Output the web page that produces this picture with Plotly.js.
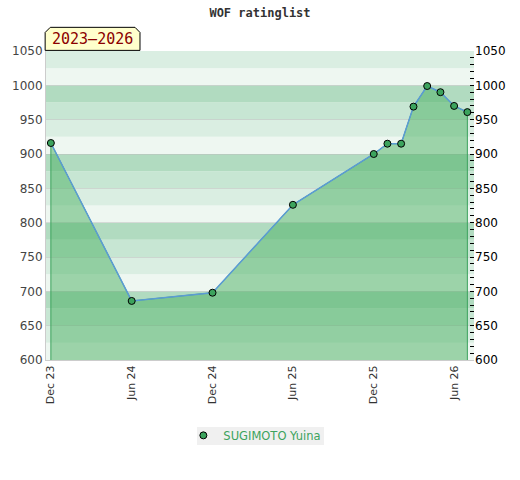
<!DOCTYPE html>
<html><head><meta charset="utf-8">
<script src="https://cdn.plot.ly/plotly-3.0.1.min.js"></script>
<style>html,body{margin:0;padding:0;background:#fff}#c{width:520px;height:480px}</style>
</head><body><div id="c"></div>
<script>
var dates = ['2023-12-01','2024-06-01','2024-12-01','2025-06-01','2025-12-01','2026-01-01','2026-02-01','2026-03-01','2026-04-01','2026-05-01','2026-06-01','2026-07-01'];
var ratings = [916, 686, 698, 826, 900, 915, 915, 969, 999, 990, 970, 961];
var tickDates = ['2023-12-01','2024-06-01','2024-12-01','2025-06-01','2025-12-01','2026-06-01'];
var tickLabels = ['Dec 23','Jun 24','Dec 24','Jun 25','Dec 25','Jun 26'];
var playerName = 'SUGIMOTO Yuina';
var periodLabel = '2023\u20132026';
var yMin = 600, yMax = 1050;

var bandColors = ['#eef7f1','#daeee2','#c7e6d3','#b1dbc0'];
var shapes = [];
for (var v = yMin, i = 0; v < yMax; v += 25, i++) {
  shapes.push({type:'rect', xref:'paper', yref:'y', x0:0, x1:1, y0:v, y1:v+25,
    fillcolor: bandColors[i % 4], line:{width:0}, layer:'below'});
}
shapes.push({type:'path', xref:'paper', yref:'paper',
  path:'M -0.002 1.002 L -0.002 1.06 L 0.01 1.0766 L 0.208 1.0766 L 0.2196 1.06 L 0.2196 1.002 Z',
  fillcolor:'#ffffcc', line:{color:'#000', width:1}, layer:'above'});
// legend background box
shapes.push({type:'rect', xref:'paper', yref:'paper', x0:0.3528, x1:0.6495, y0:-0.2166, y1:-0.2748,
  fillcolor:'#f0f0f0', line:{width:0}, layer:'below'});

var n = dates.length;
var fillX = [dates[0]].concat(dates).concat([dates[n-1]]);
var fillY = [yMin].concat(ratings).concat([yMin]);

var traces = [
  {x: fillX, y: fillY, type:'scatter', mode:'lines', fill:'tozeroy',
   fillcolor:'rgba(73,175,98,0.5)', line:{color:'#3ca35d', width:1},
   showlegend:false, hoverinfo:'skip'},
  {x: dates, y: ratings, type:'scatter', mode:'lines', line:{color:'#5b9bd5', width:1.5},
   showlegend:false, hoverinfo:'skip'},
  {x: dates, y: ratings, type:'scatter', mode:'markers', name: playerName,
   marker:{color:'#3ca35d', size:7, line:{color:'#000', width:1}}},
  {x: [dates[0]], y: [ratings[0]], yaxis:'y2', type:'scatter', mode:'markers',
   marker:{opacity:0}, showlegend:false, hoverinfo:'skip'}
];

var layout = {
  width:520, height:480,
  margin:{l:46, r:46, t:51, b:120},
  paper_bgcolor:'#fff', plot_bgcolor:'#fff',
  font:{family:'DejaVu Sans', size:12, color:'#444'},
  title:{text:'<b>WOF ratinglist</b>', x:0.5, xanchor:'center', y:0.983, yanchor:'top',
    font:{family:'DejaVu Sans Mono', size:12, color:'#333'}},
  xaxis:{type:'date', range:['2023-11-20','2026-07-16'], tickvals: tickDates, ticktext: tickLabels,
    tickangle:-90, showgrid:false, zeroline:false, showline:true, linecolor:'#ccc', linewidth:1,
    ticks:'', tickfont:{family:'DejaVu Sans', size:11, color:'#333'}},
  yaxis:{range:[yMin, yMax], dtick:50, tick0:600, showgrid:true, gridcolor:'rgba(190,190,190,0.5)', gridwidth:1,
    zeroline:false, showline:true, linecolor:'#ccc', linewidth:1, ticks:'',
    tickfont:{family:'DejaVu Sans', size:12, color:'#444'}},
  yaxis2:{range:[yMin, yMax], overlaying:'y', side:'right', dtick:50, tick0:600, showgrid:false,
    zeroline:false, ticks:'inside', ticklen:4, tickcolor:'#000', tickwidth:1,
    minor:{dtick:10, ticks:'inside', ticklen:4, tickcolor:'#000', tickwidth:1},
    tickfont:{family:'DejaVu Sans', size:12, color:'#000'}},
  showlegend:true,
  legend:{orientation:'h', x:0.488, xanchor:'center', y:-0.197, yanchor:'top', bgcolor:'rgba(0,0,0,0)',
    itemwidth:30, font:{family:'DejaVu Sans', size:11.5, color:'#3ca35d'}},
  shapes: shapes,
  annotations:[{xref:'paper', yref:'paper', x:0.109, y:1.039, xanchor:'center', yanchor:'middle',
    text: periodLabel, showarrow:false, font:{family:'DejaVu Sans Mono', size:15, color:'#8b0000'}}]
};
Plotly.newPlot('c', traces, layout, {displayModeBar:false, staticPlot:true});
</script></body></html>
